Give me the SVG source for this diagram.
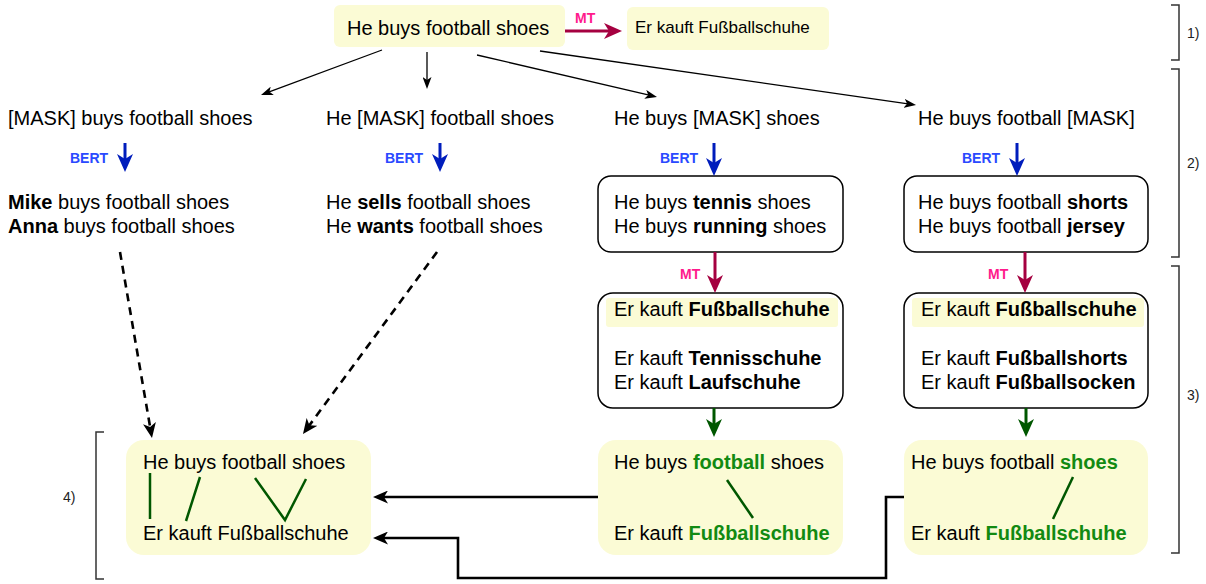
<svg xmlns="http://www.w3.org/2000/svg" width="1206" height="584" viewBox="0 0 1206 584">
<defs>
<style>
text{font-family:"Liberation Sans",Arial,Helvetica,sans-serif;fill:#000}
.t{font-size:20px}
.ts{font-size:17px}
.b{font-weight:700}
.g{fill:#128a12;font-weight:700}
.hl{fill:#fbfbd5;stroke:none}
.box{fill:#fff;stroke:#000;stroke-width:1.5}
.lbl{font-size:14px;font-weight:700}
.bert{fill:#2a49ff}
.mtl{fill:#ff1a8c}
.num{font-size:14px;fill:#222}
.thin{fill:none;stroke:#000;stroke-width:1.3}
.thick{fill:none;stroke:#000;stroke-width:2.6}
.dash{fill:none;stroke:#000;stroke-width:2.6;stroke-dasharray:8 6}
.bl{fill:none;stroke:#001dbc;stroke-width:3}
.mt{fill:none;stroke:#a50040;stroke-width:3}
.gr{fill:none;stroke:#005700;stroke-width:3}
.al{fill:none;stroke:#005700;stroke-width:2.5}
.br{fill:none;stroke:#333;stroke-width:1.5}
</style>
<marker id="aThin" markerUnits="userSpaceOnUse" viewBox="0 0 12 9" refX="4" refY="4.5" markerWidth="12" markerHeight="9" orient="auto"><path d="M0,0 L12,4.5 L0,9 L3,4.5 Z" fill="#000"/></marker>
<marker id="aThick" markerUnits="userSpaceOnUse" viewBox="0 0 15 13" refX="5" refY="6.5" markerWidth="15" markerHeight="13" orient="auto"><path d="M0,0 L15,6.5 L0,13 L4,6.5 Z" fill="#000"/></marker>
<marker id="aBlue" markerUnits="userSpaceOnUse" viewBox="0 0 18 16" refX="6" refY="8" markerWidth="18" markerHeight="16" orient="auto"><path d="M0,0 L18,8 L0,16 L5,8 Z" fill="#001dbc"/></marker>
<marker id="aMT" markerUnits="userSpaceOnUse" viewBox="0 0 18 16" refX="6" refY="8" markerWidth="18" markerHeight="16" orient="auto"><path d="M0,0 L18,8 L0,16 L5,8 Z" fill="#a50040"/></marker>
<marker id="aGreen" markerUnits="userSpaceOnUse" viewBox="0 0 18 16" refX="6" refY="8" markerWidth="18" markerHeight="16" orient="auto"><path d="M0,0 L18,8 L0,16 L5,8 Z" fill="#005700"/></marker>
</defs>
<rect width="1206" height="584" fill="#fff"/>

<g id="n-src">
<rect class="hl" x="334" y="5" width="231" height="42" rx="6"/>
<text class="t" x="347" y="35">He buys football shoes</text>
</g>
<g id="n-src-mt">
<rect class="hl" x="627" y="7" width="202" height="43" rx="6"/>
<text class="ts" x="635" y="33">Er kauft Fußballschuhe</text>
</g>

<g id="n-mask1"><text class="t" x="8" y="125">[MASK] buys football shoes</text></g>
<g id="n-mask2"><text class="t" x="326" y="125">He [MASK] football shoes</text></g>
<g id="n-mask3"><text class="t" x="614" y="125">He buys [MASK] shoes</text></g>
<g id="n-mask4"><text class="t" x="918" y="125">He buys football [MASK]</text></g>

<g id="n-bert1">
<text class="t" x="8" y="209"><tspan class="b">Mike</tspan> buys football shoes</text>
<text class="t" x="8" y="233"><tspan class="b">Anna</tspan> buys football shoes</text>
</g>
<g id="n-bert2">
<text class="t" x="326" y="209">He <tspan class="b">sells</tspan> football shoes</text>
<text class="t" x="326" y="233">He <tspan class="b">wants</tspan> football shoes</text>
</g>
<g id="n-bert3">
<rect class="box" x="598" y="176" width="245" height="76" rx="13"/>
<text class="t" x="614" y="209">He buys <tspan class="b">tennis</tspan> shoes</text>
<text class="t" x="614" y="233">He buys <tspan class="b">running</tspan> shoes</text>
</g>
<g id="n-bert4">
<rect class="box" x="904" y="176" width="244" height="76" rx="13"/>
<text class="t" x="918" y="209">He buys football <tspan class="b">shorts</tspan></text>
<text class="t" x="918" y="233">He buys football <tspan class="b">jersey</tspan></text>
</g>

<g id="n-mt3">
<rect class="box" x="598" y="293" width="245" height="115" rx="15"/>
<rect class="hl" x="606" y="298" width="232" height="29" rx="3"/>
<text class="t" x="614" y="316">Er kauft <tspan class="b">Fußballschuhe</tspan></text>
<text class="t" x="614" y="365">Er kauft <tspan class="b">Tennisschuhe</tspan></text>
<text class="t" x="614" y="389">Er kauft <tspan class="b">Laufschuhe</tspan></text>
</g>
<g id="n-mt4">
<rect class="box" x="904" y="293" width="244" height="115" rx="15"/>
<rect class="hl" x="912" y="298" width="232" height="29" rx="3"/>
<text class="t" x="921" y="316">Er kauft <tspan class="b">Fußballschuhe</tspan></text>
<text class="t" x="921" y="365">Er kauft <tspan class="b">Fußballshorts</tspan></text>
<text class="t" x="921" y="389">Er kauft <tspan class="b">Fußballsocken</tspan></text>
</g>

<g id="n-align0">
<rect class="hl" x="126" y="440" width="245" height="115" rx="18"/>
<text class="t" x="143" y="469">He buys football shoes</text>
<text class="t" x="143" y="540">Er kauft Fußballschuhe</text>
<path class="al" d="M150,473 V519 M200,477 L186,521 M255,478 L285,520 L306,479"/>
</g>
<g id="n-align3">
<rect class="hl" x="598" y="440" width="245" height="115" rx="18"/>
<text class="t" x="614" y="469">He buys <tspan class="g">football</tspan> shoes</text>
<text class="t" x="614" y="540">Er kauft <tspan class="g">Fußballschuhe</tspan></text>
<path class="al" d="M727,480 L753,518"/>
</g>
<g id="n-align4">
<rect class="hl" x="904" y="440" width="244" height="115" rx="18"/>
<text class="t" x="911" y="469">He buys football <tspan class="g">shoes</tspan></text>
<text class="t" x="911" y="540">Er kauft <tspan class="g">Fußballschuhe</tspan></text>
<path class="al" d="M1073,477 L1053,519"/>
</g>

<g id="connectors">
<line class="mt" x1="565" y1="31" x2="610" y2="31" marker-end="url(#aMT)"/>
<text class="lbl mtl" x="575" y="23">MT</text>
<line class="thin" x1="382" y1="50" x2="268.5" y2="92.2" marker-end="url(#aThin)"/>
<line class="thin" x1="427" y1="52" x2="427" y2="81" marker-end="url(#aThin)"/>
<line class="thin" x1="477" y1="55" x2="649.2" y2="95.2" marker-end="url(#aThin)"/>
<line class="thin" x1="540" y1="51" x2="908.1" y2="103.9" marker-end="url(#aThin)"/>

<line class="bl" x1="125" y1="143" x2="125" y2="160" marker-end="url(#aBlue)"/>
<text class="lbl bert" x="70" y="163">BERT</text>
<line class="bl" x1="440" y1="143" x2="440" y2="160" marker-end="url(#aBlue)"/>
<text class="lbl bert" x="385" y="163">BERT</text>
<line class="bl" x1="714" y1="143" x2="714" y2="164" marker-end="url(#aBlue)"/>
<text class="lbl bert" x="660" y="163">BERT</text>
<line class="bl" x1="1017" y1="143" x2="1017" y2="164" marker-end="url(#aBlue)"/>
<text class="lbl bert" x="962" y="163">BERT</text>

<line class="mt" x1="715" y1="252" x2="715" y2="281" marker-end="url(#aMT)"/>
<text class="lbl mtl" x="680" y="279">MT</text>
<line class="mt" x1="1025" y1="252" x2="1025" y2="281" marker-end="url(#aMT)"/>
<text class="lbl mtl" x="988" y="279">MT</text>

<line class="gr" x1="714" y1="408" x2="714" y2="425" marker-end="url(#aGreen)"/>
<line class="gr" x1="1026" y1="408" x2="1026" y2="425" marker-end="url(#aGreen)"/>

<line class="dash" x1="120" y1="252" x2="150.3" y2="428.1" marker-end="url(#aThick)"/>
<line class="dash" x1="437" y1="252" x2="308.9" y2="426" marker-end="url(#aThick)"/>

<path class="thick" d="M598,497 H383" marker-end="url(#aThick)"/>
<path class="thick" d="M904,497 H886 V578 H458 V538 H383" marker-end="url(#aThick)"/>
</g>

<g id="brackets">
<path class="br" d="M1171,5 H1179 V60 H1171"/>
<text class="num" x="1187" y="38">1)</text>
<path class="br" d="M1171,69 H1179 V257 H1171"/>
<text class="num" x="1187" y="168">2)</text>
<path class="br" d="M1171,266 H1179 V553 H1171"/>
<text class="num" x="1187" y="400">3)</text>
<path class="br" d="M104,432 H96 V579 H104"/>
<text class="num" x="63" y="502">4)</text>
</g>
</svg>
